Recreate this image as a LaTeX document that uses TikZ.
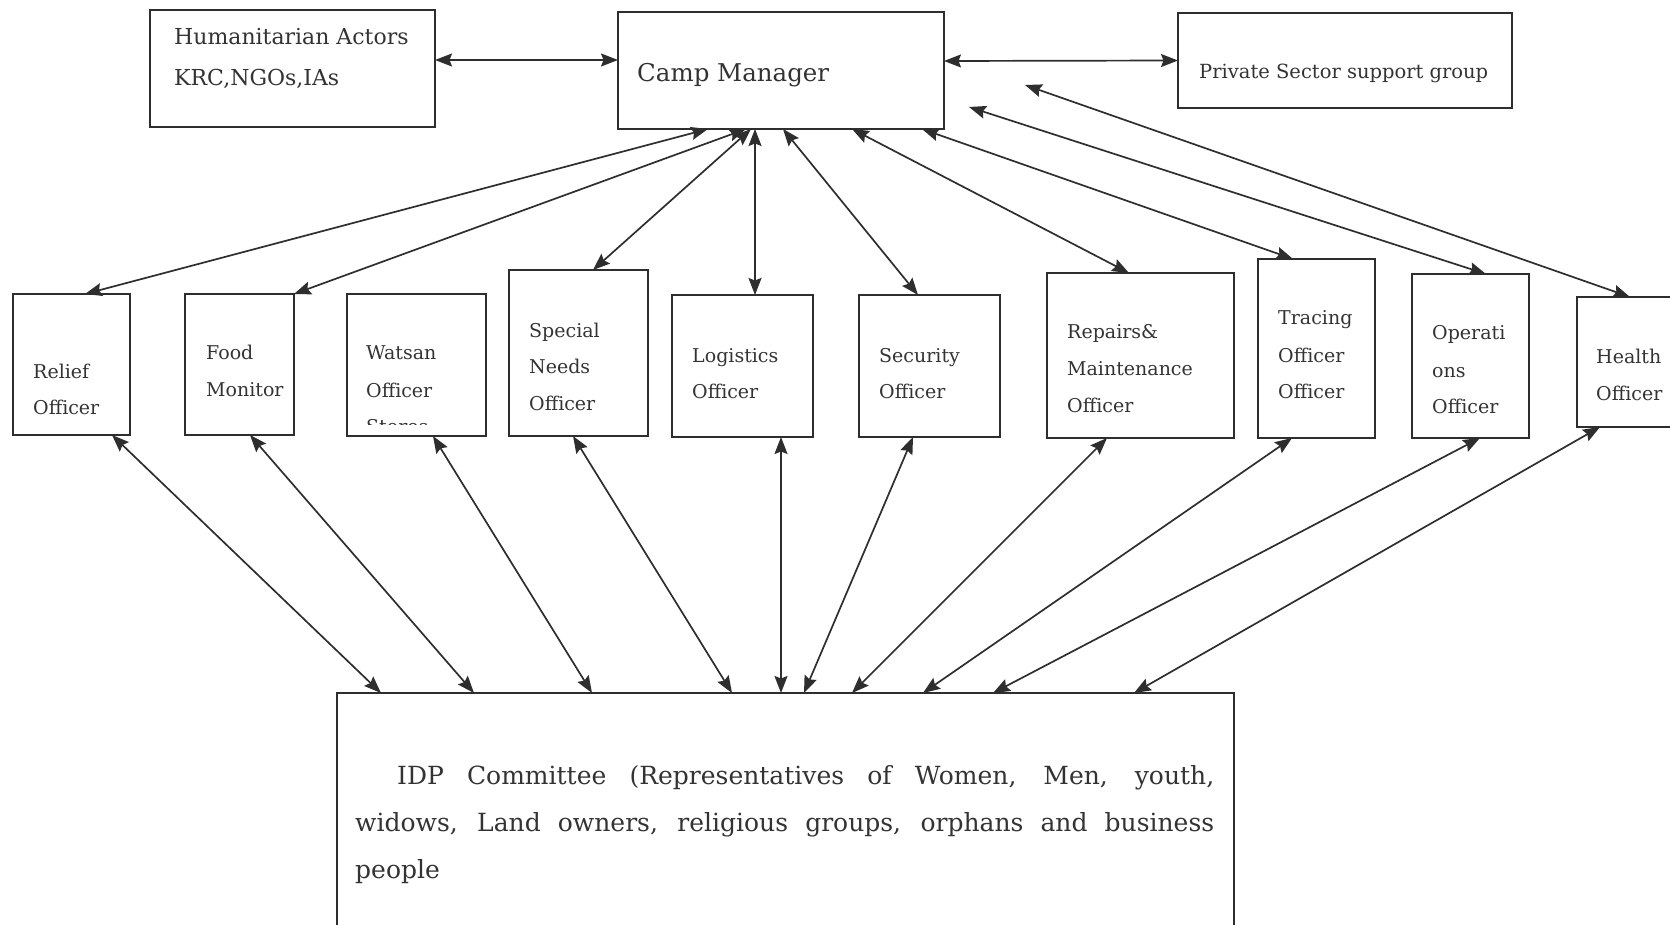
\documentclass[tikz,border=0pt]{standalone}
\usepackage{fontspec}
\setmainfont{DejaVu Serif}
\usetikzlibrary{arrows.meta,fit}
\definecolor{ink}{HTML}{2E2E2E}
\definecolor{txt}{HTML}{333333}
\tikzset{
  box/.style={draw=ink, line width=2.2pt, inner sep=0pt, outer sep=0pt},
  conn/.style={draw=ink, line width=1.7pt, {Stealth[length=17pt,width=13pt,inset=2.5pt]}-{Stealth[length=17pt,width=13pt,inset=2.5pt]}},
  lbl/.style={anchor=base west, inner sep=0pt, text=txt, font=\fontsize{19}{23}\selectfont},
}
\begin{document}
\begin{tikzpicture}[x=1pt,y=-1pt]
\useasboundingbox (0,0) rectangle (1670,925);
\begin{scope}
\clip (0,0) rectangle (1670,925);
% top row
\node[box, fit={(150,10)(435,127)}] (hum) {};
\node[box, fit={(618,12)(944,129)}] (cm) {};
\node[box, fit={(1178,13)(1512,108)}] (ps) {};
% officers
\node[box, fit={(13,294)(130,435)}] (relief) {};
\node[box, fit={(185,294)(294,435)}] (food) {};
\node[box, fit={(347,294)(486,436)}] (watsan) {};
\node[box, fit={(509,270)(648,436)}] (special) {};
\node[box, fit={(672,295)(813,437)}] (logist) {};
\node[box, fit={(859,295)(1000,437)}] (secur) {};
\node[box, fit={(1047,273)(1234,438)}] (repairs) {};
\node[box, fit={(1258,259)(1375,438)}] (tracing) {};
\node[box, fit={(1412,274)(1529,438)}] (oper) {};
\node[box, fit={(1577,297)(1700,427)}] (health) {};
% committee
\node[box, fit={(337,693)(1234,960)}] (idp) {};

% texts
\node[lbl, font=\fontsize{22}{26}\selectfont] at (174,45) {Humanitarian Actors};
\node[lbl, font=\fontsize{22}{26}\selectfont] at (174,86) {KRC,NGOs,IAs};
\node[lbl, font=\fontsize{24.5}{28}\selectfont] at (637,82) {Camp Manager};
\node[lbl, font=\fontsize{19.5}{23}\selectfont] at (1199,79) {Private Sector support group};

\node[lbl] at (33,378) {Relief};
\node[lbl] at (33,414) {Officer};
\node[lbl] at (206,359) {Food};
\node[lbl] at (206,396) {Monitor};
\node[lbl] at (366,359) {Watsan};
\node[lbl] at (366,397) {Officer};
\begin{scope}
\clip (watsan.north west) rectangle (486,424);
\node[lbl] at (366,433) {Stores};
\end{scope}
\node[lbl] at (529,337) {Special};
\node[lbl] at (529,373) {Needs};
\node[lbl] at (529,410) {Officer};
\node[lbl] at (692,362) {Logistics};
\node[lbl] at (692,398) {Officer};
\node[lbl] at (879,362) {Security};
\node[lbl] at (879,398) {Officer};
\node[lbl] at (1067,338) {Repairs\&};
\node[lbl] at (1067,375) {Maintenance};
\node[lbl] at (1067,412) {Officer};
\node[lbl] at (1278,324) {Tracing};
\node[lbl] at (1278,362) {Officer};
\node[lbl] at (1278,398) {Officer};
\node[lbl] at (1432,339) {Operati};
\node[lbl] at (1432,377) {ons};
\node[lbl] at (1432,413) {Officer};
\node[lbl] at (1596,363) {Health};
\node[lbl] at (1596,400) {Officer};

\node[anchor=north west, inner sep=0pt, text=txt, text width=859pt, align=justify,
      font=\fontsize{25}{47}\selectfont] at (355,765)
  {\hspace*{42pt}IDP Committee (Representatives of Women, Men, youth,\linebreak
   widows, Land owners, religious groups, orphans and business\linebreak people};

% free ends
\coordinate (opA) at (969,107);
\coordinate (heA) at (1025,85);

% horizontal connectors
\draw[conn] ([yshift=8.5pt]hum.east) -- ([yshift=10.5pt]cm.west);
\draw[conn] ([yshift=9.5pt]cm.east) -- (ps.west);

% top connectors
\draw[conn] ([xshift=90pt]cm.south west) -- ([xshift=72pt]relief.north west);
\draw[conn] ([xshift=128pt]cm.south west) -- ([xshift=109pt]food.north west);
\draw[conn] ([xshift=133pt]cm.south west) -- ([xshift=84pt]special.north west);
\draw[conn] ([xshift=137pt]cm.south west) -- ([xshift=83pt]logist.north west);
\draw[conn] ([xshift=165pt]cm.south west) -- ([xshift=59pt]secur.north west);
\draw[conn] ([xshift=234pt]cm.south west) -- ([xshift=82pt]repairs.north west);
\draw[conn] ([xshift=304pt]cm.south west) -- ([xshift=35pt]tracing.north west);
\draw[conn] (opA) -- ([xshift=74pt]oper.north west);
\draw[conn] (heA) -- ([xshift=53pt]health.north west);

% bottom connectors
\draw[conn] ([xshift=99pt]relief.south west) -- ([xshift=44pt]idp.north west);
\draw[conn] ([xshift=65pt]food.south west) -- ([xshift=137pt]idp.north west);
\draw[conn] ([xshift=86pt]watsan.south west) -- ([xshift=255pt]idp.north west);
\draw[conn] ([xshift=64pt]special.south west) -- ([xshift=395pt]idp.north west);
\draw[conn] ([xshift=109pt]logist.south west) -- ([xshift=444pt]idp.north west);
\draw[conn] ([xshift=54pt]secur.south west) -- ([xshift=467pt]idp.north west);
\draw[conn] ([xshift=60pt]repairs.south west) -- ([xshift=515pt]idp.north west);
\draw[conn] ([xshift=34pt]tracing.south west) -- ([xshift=586pt]idp.north west);
\draw[conn] ([xshift=68pt]oper.south west) -- ([xshift=656pt]idp.north west);
\draw[conn] ([xshift=23pt]health.south west) -- ([xshift=797pt]idp.north west);
\end{scope}
\end{tikzpicture}
\end{document}
